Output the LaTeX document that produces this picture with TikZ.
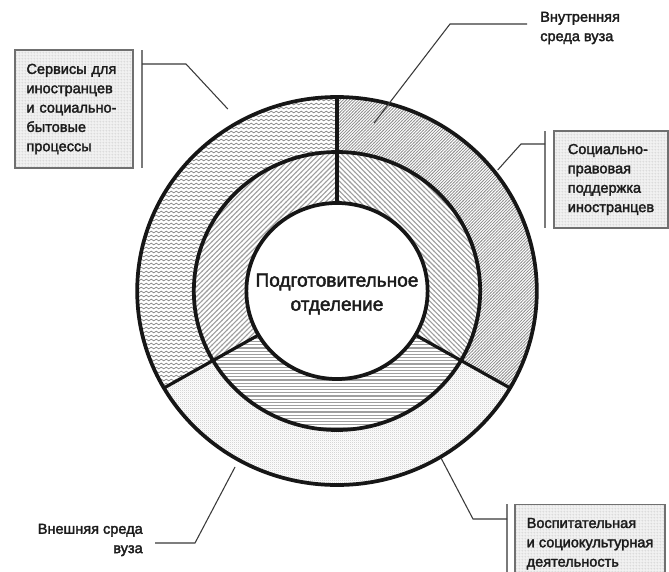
\documentclass[tikz,border=0pt]{standalone}
\usepackage{fontspec}
\setmainfont{Liberation Sans}
\newfontfamily\labelfont{Liberation Sans}[FakeBold=2.2]
\usetikzlibrary{patterns}
\definecolor{ink}{HTML}{1C1C1C}
\definecolor{ringink}{HTML}{161616}
\definecolor{leadink}{HTML}{3A3A3A}
\definecolor{bargray}{HTML}{7A7A7A}
\definecolor{boxedge}{HTML}{707070}
\definecolor{boxfill}{HTML}{F1F1F1}
\definecolor{boxgrid}{HTML}{D2D2D2}
\definecolor{hatch}{HTML}{8E8E8E}
\definecolor{stipple}{HTML}{ABABAB}
% wavy lines for the services sector
\pgfdeclarepatternformonly{ripple}{\pgfqpoint{0pt}{-1.5pt}}{\pgfqpoint{3.75pt}{1.5pt}}{\pgfqpoint{3.75pt}{3pt}}{%
  \pgfsetlinewidth{0.6pt}
  \pgfpathmoveto{\pgfqpoint{0pt}{0pt}}
  \pgfpathsine{\pgfqpoint{0.9375pt}{0.6pt}}
  \pgfpathcosine{\pgfqpoint{0.9375pt}{-0.6pt}}
  \pgfpathsine{\pgfqpoint{0.9375pt}{-0.6pt}}
  \pgfpathcosine{\pgfqpoint{0.9375pt}{0.6pt}}
  \pgfusepath{stroke}}
% dense rising lines, outer right sector
\pgfdeclarepatternformonly{fine slash}{\pgfqpoint{-1pt}{-1pt}}{\pgfqpoint{3.3pt}{3.3pt}}{\pgfqpoint{2.3pt}{2.3pt}}{%
  \pgfsetlinewidth{0.55pt}
  \pgfpathmoveto{\pgfqpoint{-0.2pt}{-0.2pt}}
  \pgfpathlineto{\pgfqpoint{2.5pt}{2.5pt}}
  \pgfusepath{stroke}}
% wider rising and falling lines, middle ring
\pgfdeclarepatternformonly{wide slash}{\pgfqpoint{-1pt}{-1pt}}{\pgfqpoint{4.7pt}{4.7pt}}{\pgfqpoint{3.7pt}{3.7pt}}{%
  \pgfsetlinewidth{0.8pt}
  \pgfpathmoveto{\pgfqpoint{-0.2pt}{-0.2pt}}
  \pgfpathlineto{\pgfqpoint{3.9pt}{3.9pt}}
  \pgfusepath{stroke}}
\pgfdeclarepatternformonly{wide backslash}{\pgfqpoint{-1pt}{-1pt}}{\pgfqpoint{4.7pt}{4.7pt}}{\pgfqpoint{3.7pt}{3.7pt}}{%
  \pgfsetlinewidth{0.8pt}
  \pgfpathmoveto{\pgfqpoint{-0.2pt}{3.9pt}}
  \pgfpathlineto{\pgfqpoint{3.9pt}{-0.2pt}}
  \pgfusepath{stroke}}
\pgfdeclarepatternformonly{wide rule}{\pgfqpoint{-0.5pt}{-1pt}}{\pgfqpoint{1.5pt}{1pt}}{\pgfqpoint{1pt}{2.4pt}}{%
  \pgfsetlinewidth{0.85pt}
  \pgfpathmoveto{\pgfqpoint{-0.5pt}{0pt}}
  \pgfpathlineto{\pgfqpoint{1.5pt}{0pt}}
  \pgfusepath{stroke}}
% stipple, outer bottom sector
\pgfdeclarepatternformonly{stipple dots}{\pgfqpoint{0pt}{0pt}}{\pgfqpoint{1.6pt}{1.6pt}}{\pgfqpoint{1.6pt}{1.6pt}}{%
  \pgfpathcircle{\pgfqpoint{0.4pt}{0.4pt}}{0.3pt}
  \pgfpathcircle{\pgfqpoint{1.2pt}{1.2pt}}{0.3pt}
  \pgfusepath{fill}}
% fine grid in the label boxes
\pgfdeclarepatternformonly{box grid}{\pgfqpoint{0pt}{0pt}}{\pgfqpoint{2.3pt}{2.3pt}}{\pgfqpoint{2.3pt}{2.3pt}}{%
  \pgfsetlinewidth{0.3pt}
  \pgfpathmoveto{\pgfqpoint{0pt}{1.15pt}}
  \pgfpathlineto{\pgfqpoint{2.3pt}{1.15pt}}
  \pgfpathmoveto{\pgfqpoint{1.15pt}{0pt}}
  \pgfpathlineto{\pgfqpoint{1.15pt}{2.3pt}}
  \pgfusepath{stroke}}
\tikzset{
  ring line/.style={draw=ringink,line width=2.8pt},
  divider/.style={draw=ringink,line width=2.4pt},
  services fill/.style={pattern=ripple,pattern color=hatch},
  support fill/.style={pattern=fine slash,pattern color=hatch},
  culture fill/.style={pattern=stipple dots,pattern color=stipple},
  mid left fill/.style={pattern=wide slash,pattern color=hatch!85},
  mid right fill/.style={pattern=wide backslash,pattern color=hatch!85},
  mid bottom fill/.style={pattern=wide rule,pattern color=hatch!85},
  label box/.style={draw=boxedge,line width=1.1pt,preaction={fill=boxfill},
    pattern=box grid,pattern color=boxgrid,
    inner sep=0pt,align=left,font=\labelfont\fontsize{10.9}{14.5}\selectfont,text=ink},
  label text/.style={inner sep=0pt,font=\labelfont\fontsize{10.9}{14.5}\selectfont,text=ink},
  leader/.style={draw=leadink,line width=.8pt},
  side bar/.style={draw=bargray,line width=1.4pt}
}

\begin{document}
\begin{tikzpicture}[x=0.75pt,y=-0.75pt]
  \path[use as bounding box] (0,0) rectangle (669,572);
  \fill[white] (0,0) rectangle (669,572);

  % Rings: three sectors, split at 30, 150 and 270 degrees.
  \begin{scope}[shift={(337,291)},xscale=1.03]
    \path[services fill] (150:139) arc[start angle=150,end angle=270,radius=139]
      -- (270:194) arc[start angle=270,end angle=150,radius=194] -- cycle;
    \path[support fill] (270:139) arc[start angle=270,end angle=390,radius=139]
      -- (390:194) arc[start angle=390,end angle=270,radius=194] -- cycle;
    \path[culture fill] (30:139) arc[start angle=30,end angle=150,radius=139]
      -- (150:194) arc[start angle=150,end angle=30,radius=194] -- cycle;
    \path[mid left fill] (150:88) arc[start angle=150,end angle=270,radius=88]
      -- (270:139) arc[start angle=270,end angle=150,radius=139] -- cycle;
    \path[mid right fill] (270:88) arc[start angle=270,end angle=390,radius=88]
      -- (390:139) arc[start angle=390,end angle=270,radius=139] -- cycle;
    \path[mid bottom fill] (30:88) arc[start angle=30,end angle=150,radius=88]
      -- (150:139) arc[start angle=150,end angle=30,radius=139] -- cycle;

    \draw[divider] (270:88) -- (270:194);
    \draw[divider] (150:88) -- (150:194);
    \draw[divider] (30:88) -- (30:194);
    \draw[ring line] (0,0) circle[radius=88];
    \draw[ring line] (0,0) circle[radius=139];
    \draw[ring line] (0,0) circle[radius=194];

    \coordinate (servicesTip) at (-106,-182);
    \coordinate (innerEnvTip) at (36,-168);
    \coordinate (supportTip) at (156,-121);
    \coordinate (cultureTip) at (101,167);
    \coordinate (outerEnvTip) at (-99,176);
  \end{scope}

  \node[text=ink,align=center,font=\labelfont\fontsize{14.3}{18}\selectfont] (prepDept)
    at (337,294) {Подготовительное\\отделение};

  % Label boxes with their side bars.
  \node[label box,minimum width=88.5pt,minimum height=88.5pt,text width=88.5pt,
        execute at begin node={\leftskip=8.6pt}] (servicesBox)
    at (74,109) {Сервисы для\\иностранцев\\и социально-\\бытовые\\процессы};
  \draw[side bar] (142,50) -- (142,168);
  \coordinate (servicesJoin) at (142,64);
  \coordinate (servicesKnee) at (186,64);
  \draw[leader] (servicesJoin) -- (servicesKnee) -- (servicesTip);

  \node[label box,minimum width=85.5pt,minimum height=72.75pt] (supportBox)
    at (611,179.5) {Социально-\\правовая\\поддержка\\иностранцев};
  \draw[side bar] (545,131) -- (545,228);
  \coordinate (supportJoin) at (545,144);
  \coordinate (supportKnee) at (521,144);
  \draw[leader] (supportJoin) -- (supportKnee) -- (supportTip);

  \node[label box,anchor=north,minimum width=112.5pt,minimum height=58.5pt] (cultureBox)
    at (590,504) {Воспитательная\\и социокультурная\\деятельность};
  \draw[side bar] (507,504) -- (507,580);
  \coordinate (cultureJoin) at (507,519);
  \coordinate (cultureKnee) at (473,519);
  \draw[leader] (cultureJoin) -- (cultureKnee) -- (cultureTip);

  % Plain labels.
  \node[label text,anchor=north west,align=left] (innerEnvLabel)
    at (540,11.5) {Внутренняя\\среда вуза};
  \coordinate (innerEnvJoin) at (527,24);
  \coordinate (innerEnvKnee) at (450,24);
  \draw[leader] (innerEnvJoin) -- (innerEnvKnee) -- (innerEnvTip);

  \node[label text,anchor=north east,align=right] (outerEnvLabel)
    at (143,523.5) {Внешняя среда\\вуза};
  \coordinate (outerEnvJoin) at (155,543);
  \coordinate (outerEnvKnee) at (195,543);
  \draw[leader] (outerEnvJoin) -- (outerEnvKnee) -- (outerEnvTip);
\end{tikzpicture}
\end{document}
